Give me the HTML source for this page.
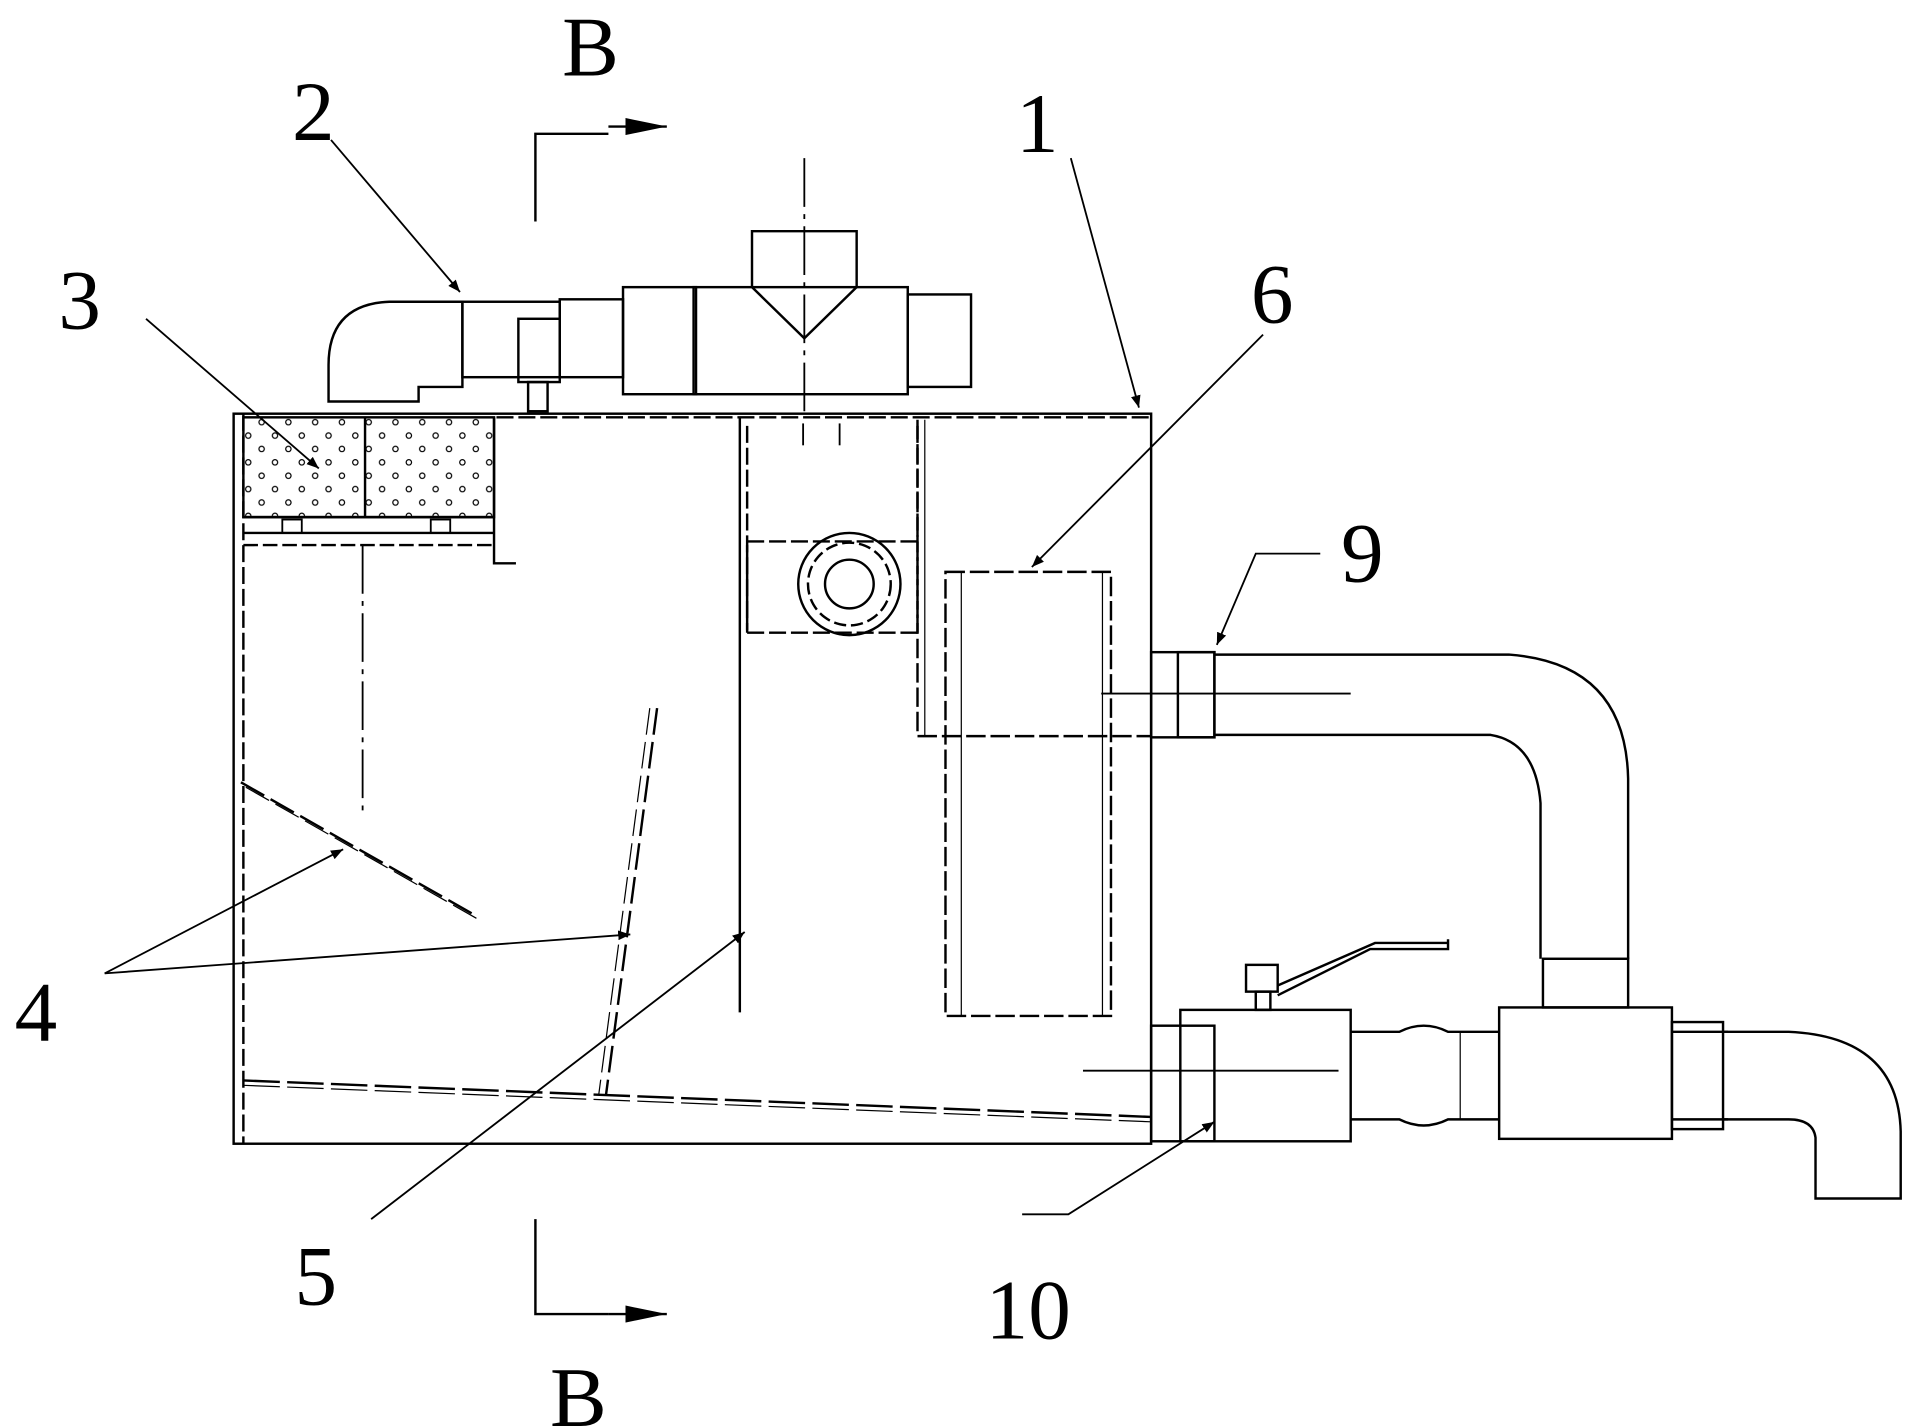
<!DOCTYPE html>
<html><head><meta charset="utf-8"><style>
html,body{margin:0;padding:0;background:#fff;}
svg{display:block;}
text{font-family:"Liberation Serif",serif;fill:#000;}
</style></head><body>
<svg width="1908" height="1426" viewBox="0 0 1568 1172" preserveAspectRatio="none" xmlns="http://www.w3.org/2000/svg">
<defs>
<marker id="ar" markerWidth="10" markerHeight="8" refX="10" refY="4" orient="auto" markerUnits="userSpaceOnUse"><path d="M0,0 L10,4 L0,8 z" fill="#000"/></marker>
<marker id="ar2" markerWidth="34" markerHeight="14" refX="34" refY="7" orient="auto" markerUnits="userSpaceOnUse"><path d="M0,0 L34,7 L0,14 z" fill="#000"/></marker>
<pattern id="dots" width="22" height="22" patternUnits="userSpaceOnUse"><circle cx="6" cy="6" r="2.2" fill="none" stroke="#000" stroke-width="1"/><circle cx="17" cy="17" r="2.2" fill="none" stroke="#000" stroke-width="1"/></pattern>
</defs>
<g fill="none" stroke="#000" stroke-width="2">
<!-- section marks B -->
<path d="M440 182 V110 H500"/><path d="M500 104 L548 104" marker-end="url(#ar2)"/>
<path d="M440 1002 V1080 H500"/><path d="M500 1080 L548 1080" marker-end="url(#ar2)"/>
<!-- main box -->
<rect x="192" y="340" width="754" height="600"/>
<line x1="200" y1="340" x2="200" y2="940" stroke-dasharray="14,4"/>
<!-- filter block 3 -->
<rect x="200" y="343" width="206" height="82" fill="url(#dots)"/>
<line x1="300" y1="343" x2="300" y2="425"/>
<line x1="200" y1="425" x2="406" y2="425"/>
<line x1="200" y1="438" x2="406" y2="438"/>
<line x1="200" y1="448" x2="406" y2="448" stroke-dasharray="12,4"/>
<rect x="232" y="427" width="16" height="11" stroke-width="1.5"/>
<rect x="354" y="427" width="16" height="11" stroke-width="1.5"/>
<path d="M406 343 V463 H424"/>
<path d="M408 343 H946" stroke-dasharray="14,4"/>
<line x1="298" y1="448" x2="298" y2="670" stroke-dasharray="40,6,4,6" stroke-width="1.5"/>
<!-- baffles 4 -->
<path d="M198 643 L390 752" stroke-dasharray="22,6"/>
<path d="M202 647 L392 755" stroke-dasharray="22,6" stroke-width="1"/>
<path d="M540 582 L498 900" stroke-dasharray="22,6"/>
<path d="M534 582 L492 900" stroke-dasharray="22,6" stroke-width="1"/>
<path d="M200 888 L946 918" stroke-dasharray="30,6"/>
<path d="M200 892 L946 922" stroke-dasharray="30,6" stroke-width="1"/>
<!-- center partition -->
<path d="M608 343 V832" stroke-width="2"/>
<path d="M614 350 V520 M754 350 V520" stroke-dasharray="14,4"/>
<path d="M614 445 H754 M614 520 H754" stroke-dasharray="14,4"/>
<path d="M614 448 V518" />
<circle cx="698" cy="480" r="42"/><circle cx="698" cy="480" r="34" stroke-dasharray="10,4"/><circle cx="698" cy="480" r="20"/>
<line x1="660" y1="348" x2="660" y2="366" stroke-width="1.5"/><line x1="690" y1="348" x2="690" y2="366" stroke-width="1.5"/>
<!-- right partition -->
<path d="M754 345 V605 H946" stroke-dasharray="16,4"/>
<path d="M760 345 V605" stroke-width="1"/>
<rect x="777" y="470" width="136" height="365" stroke-dasharray="16,4"/>
<line x1="790" y1="470" x2="790" y2="835" stroke-width="1"/>
<line x1="906" y1="470" x2="906" y2="835" stroke-width="1"/>
<!-- top pipe 2 -->
<path d="M270 330 V300 Q270 250 320 248 H380 V318 H344 V330 Z"/>
<rect x="380" y="248" width="80" height="62"/>
<rect x="426" y="262" width="34" height="52"/>
<rect x="434" y="314" width="16" height="24"/>
<rect x="460" y="246" width="52" height="64"/>
<rect x="512" y="236" width="60" height="88"/>
<rect x="570" y="236" width="176" height="88"/>
<rect x="746" y="242" width="52" height="76"/>
<path d="M618 236 V190 H704 V236"/>
<path d="M618 236 L661 278 L704 236"/>
<line x1="661" y1="130" x2="661" y2="340" stroke-width="1.5" stroke-dasharray="40,6,4,6"/>
<!-- outlet 9 -->
<rect x="946" y="536" width="52" height="70"/>
<rect x="968" y="536" width="30" height="70"/>
<path d="M998 538 H1240 Q1336 545 1338 640 V788"/>
<path d="M998 604 H1225 Q1262 610 1266 660 V788"/>
<line x1="905" y1="570" x2="1110" y2="570" stroke-width="1.5"/>
<!-- valve 10 -->
<rect x="946" y="843" width="52" height="95"/>
<rect x="970" y="830" width="140" height="108"/>
<rect x="1024" y="793" width="26" height="22"/><rect x="1032" y="815" width="12" height="15"/>
<path d="M1050 810 L1130 775 H1190"/><path d="M1050 818 L1126 780 H1190 V772"/>
<path d="M1110 848 H1150 Q1170 838 1190 848 H1232"/>
<path d="M1110 920 H1150 Q1170 930 1190 920 H1232"/>
<line x1="1200" y1="848" x2="1200" y2="920" stroke-width="1"/>
<rect x="1232" y="828" width="142" height="108"/>
<rect x="1268" y="788" width="70" height="40"/>
<path d="M1374 848 H1420 M1374 920 H1420"/>
<rect x="1374" y="840" width="42" height="88"/>
<path d="M1416 848 H1470 Q1560 852 1562 930 V985 H1492 V935 Q1490 920 1470 920 H1416"/>
<line x1="890" y1="880" x2="1100" y2="880" stroke-width="1.5"/>
<!-- leaders -->
<g stroke-width="1.5">
<line x1="272" y1="115" x2="378" y2="240" marker-end="url(#ar)"/>
<line x1="120" y1="262" x2="262" y2="385" marker-end="url(#ar)"/>
<line x1="880" y1="130" x2="936" y2="335" marker-end="url(#ar)"/>
<line x1="1038" y1="275" x2="848" y2="466" marker-end="url(#ar)"/>
<path d="M1085 455 H1032 L1000 530" marker-end="url(#ar)"/>
<line x1="86" y1="800" x2="282" y2="698" marker-end="url(#ar)"/>
<line x1="86" y1="800" x2="518" y2="768" marker-end="url(#ar)"/>
<line x1="305" y1="1002" x2="612" y2="766" marker-end="url(#ar)"/>
<path d="M840 998 H878 L998 922" marker-end="url(#ar)"/>
</g>
</g>
<g font-size="70">
<text x="462" y="62">B</text>
<text x="452" y="1172">B</text>
<text x="240" y="115">2</text>
<text x="835" y="125">1</text>
<text x="48" y="270">3</text>
<text x="1028" y="265">6</text>
<text x="1102" y="478">9</text>
<text x="12" y="855">4</text>
<text x="242" y="1072">5</text>
<text x="810" y="1100">10</text>
</g>
</svg>
</body></html>
